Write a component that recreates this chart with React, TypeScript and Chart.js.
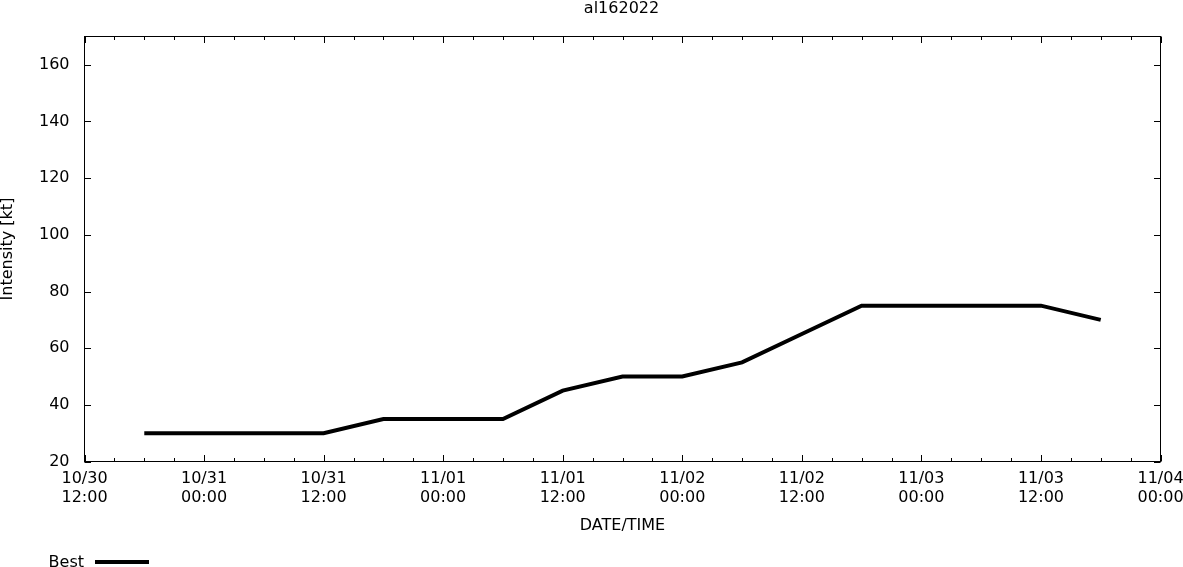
import React, { useEffect, useRef } from "react";
import { Chart, registerables, Plugin } from "chart.js";

Chart.register(...registerables);

// hours since 10/30 12:00 UTC
const hours = [6, 12, 18, 24, 30, 36, 42, 48, 54, 60, 66, 72, 78, 84, 90, 96, 102];
const intensity = [30, 30, 30, 30, 35, 35, 35, 45, 50, 50, 55, 65, 75, 75, 75, 75, 70];

const xTickValues = [0, 12, 24, 36, 48, 60, 72, 84, 96, 108];
const xTickLabels = [
  ["10/30", "12:00"],
  ["10/31", "00:00"],
  ["10/31", "12:00"],
  ["11/01", "00:00"],
  ["11/01", "12:00"],
  ["11/02", "00:00"],
  ["11/02", "12:00"],
  ["11/03", "00:00"],
  ["11/03", "12:00"],
  ["11/04", "00:00"],
];
const yTickValues = [20, 40, 60, 80, 100, 120, 140, 160];

const FONT = "DejaVu Sans";
const FS = 16;

const framePlugin: Plugin<"line"> = {
  id: "frame",
  afterDraw(chart) {
    const { ctx, chartArea: a, scales } = chart;
    const x = scales.x;
    const y = scales.y;
    ctx.save();
    ctx.strokeStyle = "#000";
    ctx.lineWidth = 1;
    ctx.strokeRect(a.left, a.top, a.right - a.left, a.bottom - a.top);

    ctx.beginPath();
    // x ticks, major every 12h, minor every 3h, inward on top and bottom
    for (let h = 0; h <= 108; h += 3) {
      const px = Math.round(x.getPixelForValue(h)) + 0.5;
      const len = h % 12 === 0 ? 6.5 : 3.5;
      ctx.moveTo(px, a.bottom);
      ctx.lineTo(px, a.bottom - len);
      ctx.moveTo(px, a.top);
      ctx.lineTo(px, a.top + len);
    }
    yTickValues.forEach((v) => {
      const py = Math.round(y.getPixelForValue(v)) + 0.5;
      ctx.moveTo(a.left, py);
      ctx.lineTo(a.left + 6.5, py);
      ctx.moveTo(a.right, py);
      ctx.lineTo(a.right - 6.5, py);
    });
    ctx.stroke();

    // title
    ctx.fillStyle = "#000";
    ctx.font = `${FS}px ${FONT}`;
    ctx.textAlign = "center";
    ctx.textBaseline = "alphabetic";
    ctx.fillText("al162022", (a.left + a.right) / 2 - 1, 12.5);

    // legend
    ctx.textAlign = "right";
    ctx.fillText(chart.data.datasets[0].label as string, 84, 566.5);
    ctx.beginPath();
    ctx.lineWidth = 4;
    ctx.moveTo(95, 562);
    ctx.lineTo(149, 562);
    ctx.stroke();
    ctx.restore();
  },
};

const App: React.FC = () => {
  const canvasRef = useRef<HTMLCanvasElement | null>(null);

  useEffect(() => {
    document.body.style.margin = "0";
    const ctx = canvasRef.current?.getContext("2d");
    if (!ctx) return;
    Chart.defaults.color = "#000";
    Chart.defaults.font.family = FONT;
    Chart.defaults.font.size = FS;

    const chart = new Chart(ctx, {
      type: "line",
      data: {
        datasets: [
          {
            label: "Best",
            data: hours.map((h, i) => ({ x: h, y: intensity[i] })),
            borderColor: "#000",
            borderWidth: 4,
            pointRadius: 0,
            tension: 0,
            fill: false,
          },
        ],
      },
      options: {
        animation: false,
        responsive: false,
        layout: { padding: { left: 0, right: 22.5, top: 36.5, bottom: 0 } },
        plugins: {
          legend: { display: false },
          tooltip: { enabled: false },
          title: { display: false },
        },
        scales: {
          x: {
            type: "linear",
            min: 0,
            max: 108,
            grid: { display: false, drawTicks: false },
            border: { display: false },
            afterBuildTicks: (scale) => {
              scale.ticks = xTickValues.map((v) => ({ value: v }));
            },
            afterFit: (scale) => {
              scale.height = 105.5;
              scale.paddingLeft = 0;
              scale.paddingRight = 0;
            },
            ticks: {
              autoSkip: false,
              maxRotation: 0,
              padding: 8.25,
              font: { size: FS, lineHeight: 18.5 / FS },
              callback: (value) => xTickLabels[xTickValues.indexOf(Number(value))] ?? "",
            },
            title: {
              display: true,
              text: "DATE/TIME",
              font: { size: FS, lineHeight: 1 },
              padding: { top: 0, bottom: 33 },
            },
          },
          y: {
            type: "linear",
            min: 20,
            max: 170,
            grid: { display: false, drawTicks: false },
            border: { display: false },
            afterBuildTicks: (scale) => {
              scale.ticks = yTickValues.map((v) => ({ value: v }));
            },
            afterFit: (scale) => {
              scale.width = 84.5;
              scale.paddingTop = 0;
              scale.paddingBottom = 0;
            },
            ticks: {
              padding: 15,
              font: { size: FS },
              callback: (value) => String(value),
            },
            title: {
              display: true,
              text: "Intensity [kt]",
              font: { size: FS, lineHeight: 15 / FS },
              padding: { top: 0, bottom: 0 },
            },
          },
        },
      },
      plugins: [framePlugin],
    });

    return () => {
      chart.destroy();
    };
  }, []);

  return (
    <div style={{ width: "1183px", height: "567px" }}>
      <canvas ref={canvasRef} width={1183} height={567} style={{ display: "block" }} />
    </div>
  );
};

export default App;
